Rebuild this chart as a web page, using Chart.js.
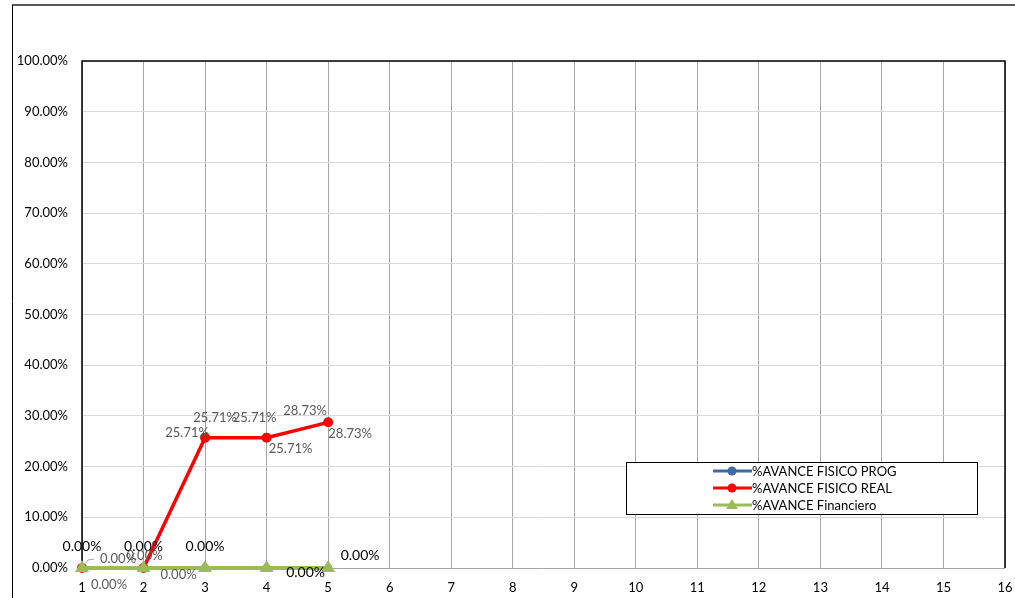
<!DOCTYPE html>
<html>
<head>
<meta charset="utf-8">
<script src="https://cdn.jsdelivr.net/npm/chart.js@4/dist/chart.umd.min.js"></script>
<style>
html,body{margin:0;padding:0;background:#fff;}
#wrap{width:1015px;height:598px;position:relative;}
</style>
</head>
<body>
<div id="wrap"><canvas id="c" width="1015" height="598"></canvas></div>
<script>
// ---- data ----
const categories = [1,2,3,4,5,6,7,8,9,10,11,12,13,14,15,16];
const seriesNames = ['%AVANCE FISICO PROG','%AVANCE FISICO REAL','%AVANCE Financiero'];
const progValues = [0,0,0,0,0];
const realValues = [0,0,0.2571,0.2571,0.2873];
const finValues  = [0,0,0,0,0];
const yTicks = [0,0.1,0.2,0.3,0.4,0.5,0.6,0.7,0.8,0.9,1.0];

// label placement styles: [datasetIndex, pointIndex, dx, dy, color, fontSize]
const labelStyles = [
  [0,0,0,-22,'#000',14],[0,1,0,-22,'#000',14],[0,2,0,-22,'#000',14],
  [0,3,39,4,'#000',14],[0,4,32,-13,'#000',14],
  [1,0,36,-9,'#595959',13],[1,1,1,-12,'#595959',13],
  [1,2,-18,-5,'#595959',13],[1,2,10,-20,'#595959',13],
  [1,3,-12,-20,'#595959',13],[1,3,24,11,'#595959',13],
  [1,4,-23,-12,'#595959',13],[1,4,22,11,'#595959',13],
  [2,0,27,17,'#595959',13],[2,1,35,7,'#595959',13]
];

const FONT = 'Lato, "Liberation Sans", sans-serif';
const BLUE = '#3F6AA6', RED = '#FF0000', GREEN = '#9BBB59';

const toXY = arr => arr.map((v,i)=>({x:categories[i], y:v}));
const fmt = v => (v*100).toFixed(2) + '%';

const decor = {
  id:'decor',
  beforeDraw(chart){
    const c = chart.ctx;
    c.save();
    c.fillStyle='#fff'; c.fillRect(0,0,chart.width,chart.height);
    c.strokeStyle='#595959'; c.lineWidth=2;
    c.beginPath(); c.moveTo(12,5); c.lineTo(1015,5); c.stroke();
    c.strokeStyle='#000'; c.lineWidth=1;
    c.beginPath(); c.moveTo(12.5,5); c.lineTo(12.5,598); c.stroke();
    c.restore();
  },
  beforeDatasetsDraw(chart){
    const c = chart.ctx, a = chart.chartArea;
    c.save();
    c.strokeStyle='#A6A6A6'; c.lineWidth=1;
    c.beginPath(); c.moveTo(a.left,a.bottom+0.5); c.lineTo(a.right,a.bottom+0.5); c.stroke();
    c.strokeStyle='#000'; c.lineWidth=1.5;
    c.beginPath();
    c.moveTo(a.left,a.bottom); c.lineTo(a.left,a.top); c.lineTo(a.right,a.top); c.lineTo(a.right,a.bottom);
    c.stroke();
    c.restore();
  },
  afterDatasetsDraw(chart){
    const c = chart.ctx;
    c.save();
    c.textAlign='center'; c.textBaseline='middle';
    labelStyles.forEach(([d,p,dx,dy,col,fs])=>{
      const el = chart.getDatasetMeta(d).data[p];
      const v = chart.data.datasets[d].data[p].y;
      c.font = fs+'px '+FONT; c.fillStyle=col;
      c.fillText(fmt(v), el.x+dx, el.y+dy);
    });
    // leader line for first real label
    const e0 = chart.getDatasetMeta(1).data[0];
    c.strokeStyle='#A6A6A6'; c.lineWidth=1;
    c.beginPath(); c.moveTo(e0.x+2,e0.y-2); c.lineTo(e0.x+6,e0.y-8); c.lineTo(e0.x+12,e0.y-9); c.stroke();
    // legend
    const L=626,T=462,R=977,B=514;
    c.fillStyle='#fff'; c.fillRect(L,T,R-L,B-T);
    c.strokeStyle='#000'; c.lineWidth=1; c.strokeRect(L+0.5,T+0.5,R-L,B-T);
    const cols=[BLUE,RED,GREEN];
    c.textAlign='left';
    c.font='13px '+FONT;
    cols.forEach((col,i)=>{
      const y = 471 + i*17;
      c.strokeStyle=col; c.lineWidth=3;
      c.beginPath(); c.moveTo(713,y); c.lineTo(752,y); c.stroke();
      c.fillStyle=col;
      c.beginPath();
      if(i<2){ c.arc(732,y,4.5,0,Math.PI*2); }
      else { c.moveTo(732,y-6); c.lineTo(738,y+4); c.lineTo(726,y+4); c.closePath(); }
      c.fill();
      c.fillStyle='#000';
      c.fillText(seriesNames[i],752,y+1);
    });
    c.restore();
  }
};

new Chart(document.getElementById('c'),{
  type:'line',
  data:{datasets:[
    {label:seriesNames[0],data:toXY(progValues),borderColor:BLUE,backgroundColor:BLUE,borderWidth:3,pointRadius:4,pointBorderWidth:0,pointStyle:'circle',order:2,clip:false},
    {label:seriesNames[1],data:toXY(realValues),borderColor:RED,backgroundColor:RED,borderWidth:3.5,pointRadius:5,pointBorderWidth:0,pointStyle:'circle',order:1,clip:false},
    {label:seriesNames[2],data:toXY(finValues),borderColor:GREEN,backgroundColor:GREEN,borderWidth:4,pointRadius:8,pointBorderWidth:0,pointStyle:'triangle',order:0,clip:false}
  ]},
  plugins:[decor],
  options:{
    responsive:false,animation:false,
    layout:{padding:{top:61,right:0,left:0,bottom:0}},
    plugins:{legend:{display:false},tooltip:{enabled:false}},
    scales:{
      x:{type:'linear',min:1,max:16,
        ticks:{stepSize:1,color:'#000',font:{family:FONT,size:13},padding:12,autoSkip:false,callback:(v)=>categories.includes(v)?String(v):''},
        grid:{color:'#A6A6A6',lineWidth:1,drawTicks:false},
        border:{display:false},
        afterFit(s){s.height=30; s.paddingRight=10;}
      },
      y:{min:0,max:1,
        afterBuildTicks(s){s.ticks=yTicks.map(v=>({value:v}));},
        ticks:{color:'#000',font:{family:FONT,size:13},padding:14,callback:v=>fmt(v)},
        grid:{color:'#D9D9D9',lineWidth:1,drawTicks:false},
        border:{display:false},
        afterFit(s){s.width=82;}
      }
    }
  }
});
</script>
</body>
</html>
